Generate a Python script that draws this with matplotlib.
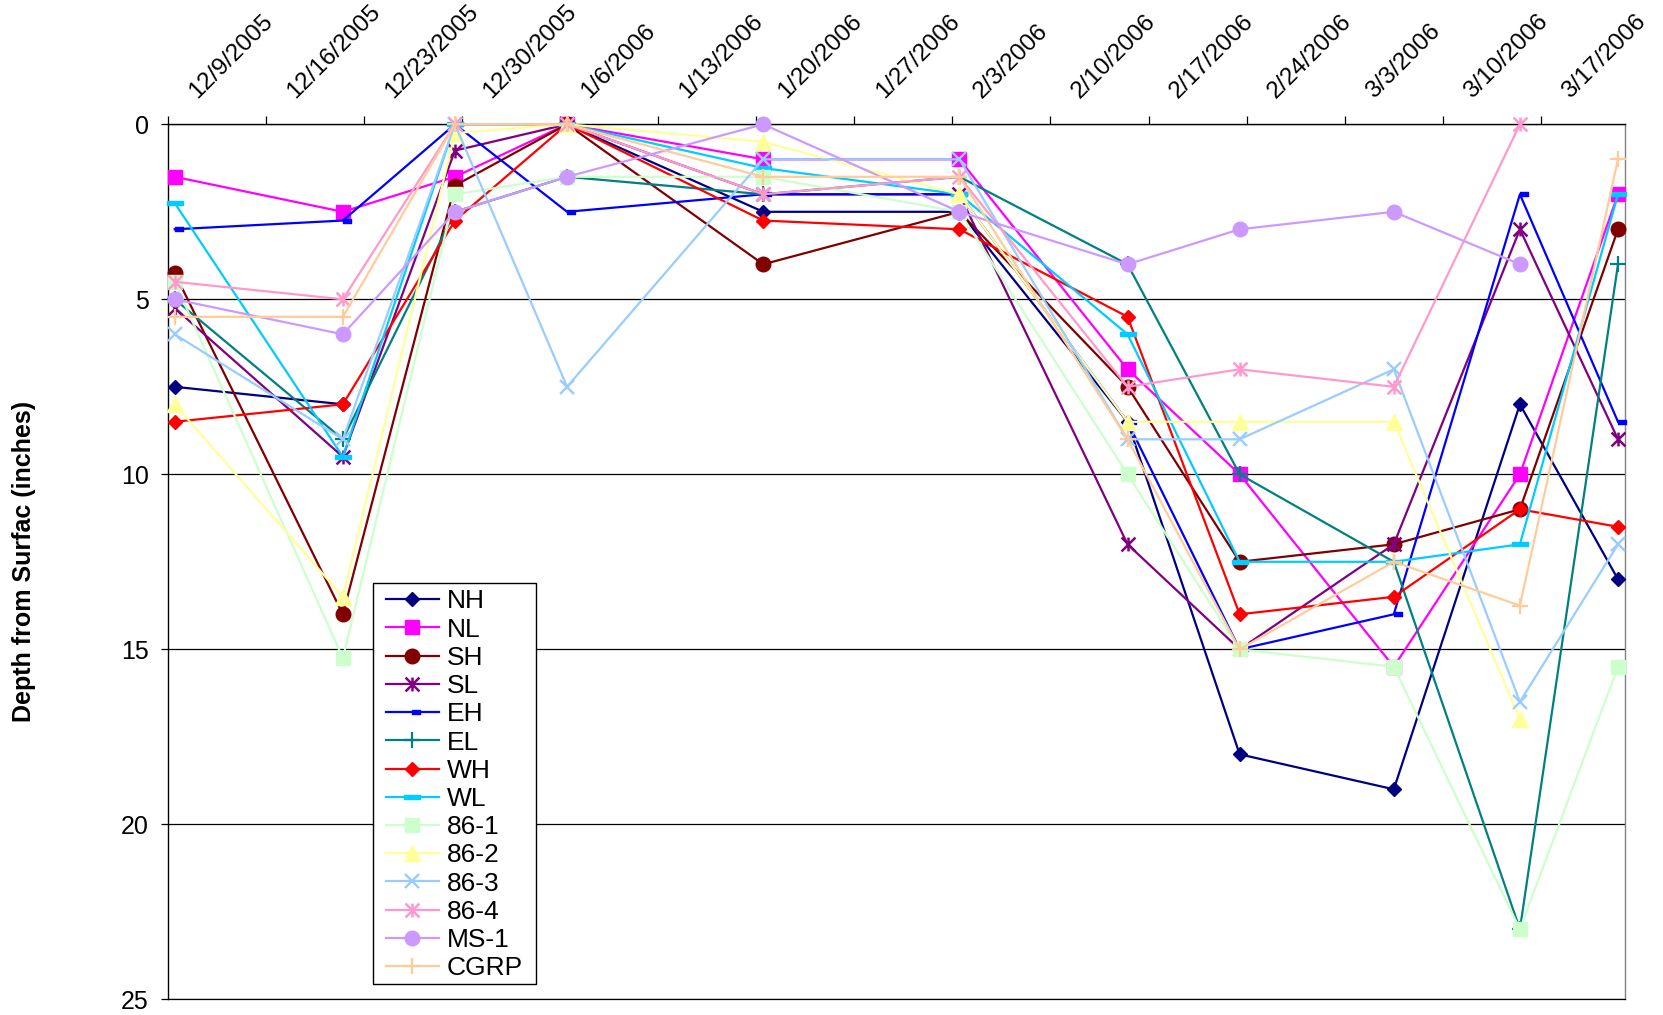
import matplotlib
matplotlib.use('Agg')
import matplotlib.pyplot as plt
import matplotlib.dates as mdates
from matplotlib.path import Path
from matplotlib.patches import Rectangle
from matplotlib.transforms import ScaledTranslation
import numpy as np
import datetime as dt

plt.rcParams['font.family'] = ['Liberation Sans', 'DejaVu Sans']

nan = np.nan
sample_dates = ['2005-12-09', '2005-12-21', '2005-12-29', '2006-01-06', '2006-01-20',
                '2006-02-03', '2006-02-15', '2006-02-23', '2006-03-06', '2006-03-15', '2006-03-22']
tick_dates = ['2005-12-09', '2005-12-16', '2005-12-23', '2005-12-30', '2006-01-06',
              '2006-01-13', '2006-01-20', '2006-01-27', '2006-02-03', '2006-02-10',
              '2006-02-17', '2006-02-24', '2006-03-03', '2006-03-10', '2006-03-17']

NH = [7.5, 8.0, nan, 0, 2.5, 2.5, 8.5, 18.0, 19.0, 8.0, 13.0]
NL = [1.5, 2.5, 1.5, 0, 1.0, 1.0, 7.0, 10.0, 15.5, 10.0, 2.0]
SH = [4.25, 14.0, 1.75, 0, 4.0, 2.5, 7.5, 12.5, 12.0, 11.0, 3.0]
SL = [5.25, 9.5, 0.75, 0, 2.0, 2.0, 12.0, 15.0, 12.0, 3.0, 9.0]
EH = [3.0, 2.75, 0, 2.5, 2.0, 2.0, 8.5, 15.0, 14.0, 2.0, 8.5]
EL = [5.0, 9.0, 2.5, 1.5, 2.0, 1.5, 4.0, 10.0, 12.5, 23.0, 4.0]
WH = [8.5, 8.0, 2.75, 0, 2.75, 3.0, 5.5, 14.0, 13.5, 11.0, 11.5]
WL = [2.25, 9.5, 0, 0, 1.25, 2.0, 6.0, 12.5, 12.5, 12.0, 2.0]
S86_1 = [4.5, 15.25, 2.0, 1.5, 1.5, 2.5, 10.0, 15.0, 15.5, 23.0, 15.5]
S86_2 = [8.0, 13.5, 0.25, 0, 0.5, 2.0, 8.5, 8.5, 8.5, 17.0, nan]
S86_3 = [6.0, 9.0, 0, 7.5, 1.0, 1.0, 9.0, 9.0, 7.0, 16.5, 12.0]
S86_4 = [4.5, 5.0, 0, 0, 2.0, 1.5, 7.5, 7.0, 7.5, 0, nan]
MS_1 = [5.0, 6.0, 2.5, 1.5, 0, 2.5, 4.0, 3.0, 2.5, 4.0, nan]
CGRP = [5.5, 5.5, 0, 0, 1.5, 1.5, 9.0, 15.0, 12.5, 13.75, 1.0]

series_names = ['NH', 'NL', 'SH', 'SL', 'EH', 'EL', 'WH', 'WL',
                '86-1', '86-2', '86-3', '86-4', 'MS-1', 'CGRP']
series_values = [NH, NL, SH, SL, EH, EL, WH, WL, S86_1, S86_2, S86_3, S86_4, MS_1, CGRP]

long_dash = Path([(-1, -0.27), (1, -0.27), (1, 0.27), (-1, 0.27), (-1, -0.27)],
                 [Path.MOVETO, Path.LINETO, Path.LINETO, Path.LINETO, Path.CLOSEPOLY])
short_dash = Path([(0, -0.25), (1, -0.25), (1, 0.25), (0, 0.25), (0, -0.25)],
                  [Path.MOVETO, Path.LINETO, Path.LINETO, Path.LINETO, Path.CLOSEPOLY])
star = Path([(-1, -1), (1, 1), (-1, 1), (1, -1), (0, -1), (0, 1)],
            [Path.MOVETO, Path.LINETO, Path.MOVETO, Path.LINETO, Path.MOVETO, Path.LINETO])

styles = {
    'NH':   dict(color='#000080', marker='D', ms=7.5),
    'NL':   dict(color='#FF00FF', marker='s', ms=10),
    'SH':   dict(color='#800000', marker='o', ms=10.5),
    'SL':   dict(color='#800080', marker=star, ms=10, mew=1.8),
    'EH':   dict(color='#0000FF', marker=short_dash, ms=11.5),
    'EL':   dict(color='#008080', marker='+', ms=11, mew=1.6),
    'WH':   dict(color='#FF0000', marker='D', ms=7.5),
    'WL':   dict(color='#00CCFF', marker=long_dash, ms=11),
    '86-1': dict(color='#CCFFCC', marker='s', ms=10),
    '86-2': dict(color='#FFFF99', marker='^', ms=11),
    '86-3': dict(color='#99CCFF', marker='x', ms=10, mew=1.7),
    '86-4': dict(color='#FF99CC', marker=star, ms=10, mew=1.8),
    'MS-1': dict(color='#CC99FF', marker='o', ms=10.5),
    'CGRP': dict(color='#FFCC99', marker='+', ms=11, mew=1.6),
}

W, H = 1663, 1015
fig = plt.figure(figsize=(W / 100, H / 100), dpi=100)
left, right, top, bottom = 167.7, 1625, 124.3, 999.3
ax = fig.add_axes([left / W, 1 - bottom / H, (right - left) / W, (bottom - top) / H])

xs = [mdates.date2num(dt.datetime.strptime(d, '%Y-%m-%d')) for d in sample_dates]

for name, vals in zip(series_names, series_values):
    st = styles[name]
    ax.plot(xs, vals, color=st['color'], lw=1.6, marker=st['marker'],
            markersize=st['ms'], markerfacecolor=st['color'],
            markeredgecolor=st['color'], markeredgewidth=st.get('mew', 1.0),
            label=name, zorder=3, clip_on=False)

ax.set_ylim(25, 0)
ax.set_yticks([0, 5, 10, 15, 20, 25])
ax.set_yticklabels(['0', '5', '10', '15', '20', '25'])
ax.yaxis.grid(True, color='black', lw=0.9)
ax.set_axisbelow(True)

tnums = [mdates.date2num(dt.datetime.strptime(d, '%Y-%m-%d')) - 0.5 for d in tick_dates]
tlabels = []
for d in tick_dates:
    dd = dt.datetime.strptime(d, '%Y-%m-%d')
    tlabels.append(f"{dd.month}/{dd.day}/{dd.year}")
ax.set_xlim(xs[0] - 0.5, xs[-1] + 0.5)
ax.xaxis.tick_top()
ax.set_xticks(tnums)
ax.set_xticklabels(tlabels, rotation=45, ha='left', va='bottom',
                   rotation_mode='anchor', fontsize=17.5)
ax.tick_params(axis='x', direction='out', length=6, width=0.9, pad=10)
ax.tick_params(axis='y', direction='out', length=5, width=0.9, pad=8.5, labelsize=18)
for lbl in ax.get_xticklabels():
    lbl.set_transform(lbl.get_transform() + ScaledTranslation(0.33, 0, fig.dpi_scale_trans))

for side in ['left', 'top']:
    ax.spines[side].set_color('black')
    ax.spines[side].set_linewidth(1.0)
ax.spines['right'].set_color('#808080')
ax.spines['right'].set_linewidth(1.0)
ax.spines['bottom'].set_color('black')
ax.spines['bottom'].set_linewidth(0.9)

fig.text(24 / W, 1 - 561.7 / H, 'Depth from Surfac (inches)', rotation=90,
         ha='center', va='center', fontsize=18, fontweight='bold')

# legend frame (Excel style: wider side padding than top padding)
lx0, ly0, lx1, ly1 = 373.3, 583.3, 536.0, 984.2
frame = Rectangle((lx0 / W, 1 - ly1 / H), (lx1 - lx0) / W, (ly1 - ly0) / H,
                  transform=fig.transFigure, facecolor='white', edgecolor='black',
                  lw=1.0, zorder=4.5, clip_on=False)
ax.add_patch(frame)

leg = ax.legend(loc='upper left', bbox_to_anchor=(386 / W, 1 - 589.5 / H),
                bbox_transform=fig.transFigure, fontsize=19, frameon=False,
                borderaxespad=0, labelspacing=0.16, handlelength=2.0,
                handletextpad=0.29, borderpad=0)
leg.set_zorder(5)

fig.savefig('out.png', dpi=100)
